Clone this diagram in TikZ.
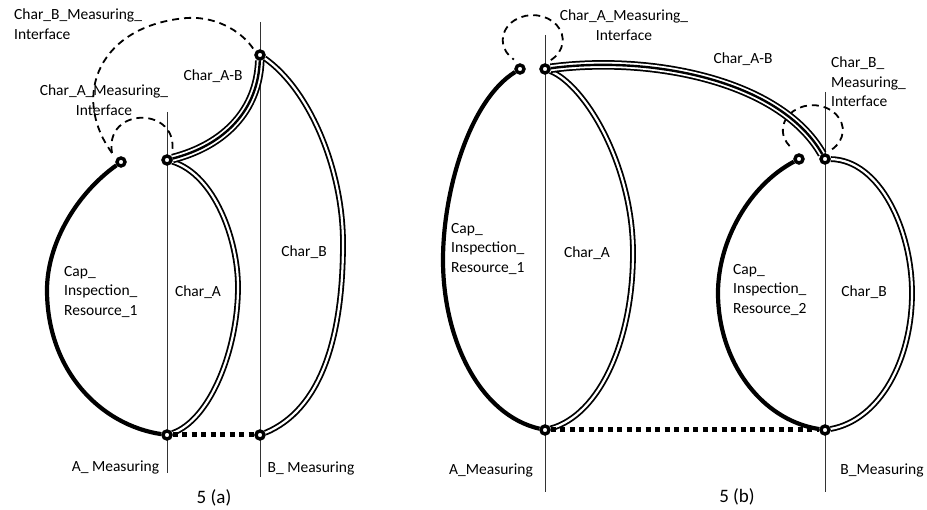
\documentclass[tikz,border=0pt]{standalone}
\usepackage{fontspec}
\setmainfont{Carlito}
\pgfdeclarelayer{back}
\pgfsetlayers{back,main}
\begin{document}
\begin{tikzpicture}[x=1pt,y=1pt,
  junction/.style={circle,draw,line width=3.4pt,fill=white,minimum size=8pt,inner sep=0pt},
  axisline/.style={draw=black!80,line width=0.9pt},
  capline/.style={line width=4.2pt},
  charline/.style={double,double distance=2.2pt,line width=1.8pt},
  abline/.style={line width=9.5pt,postaction={draw=white,line width=6pt},postaction={draw=black,line width=2.4pt}},
  ifaceline/.style={dash pattern=on 7pt off 5pt,line width=1.8pt},
  linkline/.style={line width=5pt,dash pattern=on 5pt off 4.5pt},
  lbl/.style={font=\fontsize{15.5}{19.5}\selectfont,inner sep=0pt},
  caption/.style={font=\fontsize{19}{22}\selectfont,inner sep=0pt}]
\useasboundingbox (0,0) rectangle (927,510);

% ---------- 5 (a) ----------
\node[junction] (aCap) at (121,348) {};
\node[junction] (aAt)  at (167,350) {};
\node[junction] (aAb)  at (167,75) {};
\node[junction] (aBt)  at (260,455) {};
\node[junction] (aBb)  at (260,75) {};
\coordinate (aLAtop) at (167,398);
\coordinate (aLAbot) at (167,37);
\coordinate (aLBtop) at (260,488);
\coordinate (aLBbot) at (260,33);
\coordinate (aIfA1) at (112,357);
\coordinate (aIfA2) at (172,357);
\coordinate (aIfB2) at (254,460);

% ---------- 5 (b) ----------
\node[junction] (bCap1) at (520,441) {};
\node[junction] (bAt)   at (545,441) {};
\node[junction] (bAb)   at (545,80) {};
\node[junction] (bCap2) at (799,351) {};
\node[junction] (bBt)   at (825,351) {};
\node[junction] (bBb)   at (825,80) {};
\coordinate (bLAtop) at (545,475);
\coordinate (bLAbot) at (545,18);
\coordinate (bLBtop) at (825,418);
\coordinate (bLBbot) at (825,18);
\coordinate (bIfA) at (550.8,449.9);
\coordinate (bIfB) at (832.1,360.7);

\begin{pgfonlayer}{back}
  % measuring axes
  \draw[axisline] (aLAtop) -- (aLAbot);
  \draw[axisline] (aLBtop) -- (aLBbot);
  \draw[axisline] (bLAtop) -- (bLAbot);
  \draw[axisline] (bLBtop) -- (bLBbot);

  % measuring interfaces (dashed)
  \draw[ifaceline] (aIfA1) .. controls (104,404) and (180,404) .. (aIfA2);
  \draw[ifaceline] (aIfA1) .. controls (70,415) and (100,485) .. (187,492)
                   .. controls (220,494) and (245,475) .. (aIfB2);
  \draw[ifaceline] (bIfA) arc[start angle=-53, end angle=231, x radius=30, y radius=25];
  \draw[ifaceline] (bIfB) arc[start angle=-50, end angle=228, x radius=30, y radius=25];

  % 5 (a) connectors
  \draw[capline] (aCap) .. controls (75,315) and (47,265) .. (47,220)
                 .. controls (47,140) and (100,85) .. (aAb);
  \draw[charline] (aAt) .. controls (215,335) and (238,270) .. (238,223)
                  .. controls (238,160) and (210,90) .. (aAb);
  \draw[charline] (aBt) .. controls (310,420) and (343,340) .. (343,267)
                  .. controls (343,170) and (320,100) .. (aBb);
  \draw[abline] (aAt) .. controls (225,365) and (258,400) .. (aBt);
  \draw[linkline] (aAb) -- (aBb);

  % 5 (b) connectors
  \draw[capline] (bCap1) .. controls (470,410) and (443,320) .. (443,250)
                 .. controls (443,170) and (480,95) .. (bAb);
  \draw[charline] (bAt) .. controls (585,425) and (633,345) .. (633,257)
                  .. controls (633,170) and (600,95) .. (bAb);
  \draw[capline] (bCap2) .. controls (750,325) and (718,270) .. (718,217)
                 .. controls (718,150) and (760,90) .. (bBb);
  \draw[charline] (bBt) .. controls (880,350) and (912,280) .. (912,217)
                  .. controls (912,150) and (880,90) .. (bBb);
  \draw[abline] (bAt) .. controls (650,455) and (780,430) .. (bBt);
  \draw[linkline] (bAb) -- (bBb);
\end{pgfonlayer}

% ---------- labels 5 (a) ----------
\node[lbl,anchor=west,align=left] (aIfBlbl) at (14,486) {Char\_B\_Measuring\_\\Interface};
\node[lbl,align=center] (aIfAlbl) at (104,410) {Char\_A\_Measuring\_\\Interface};
\node[lbl] (aABlbl) at (213,434) {Char\_A-B};
\node[lbl,anchor=west,align=left] (aCaplbl) at (64,218) {Cap\_\\Inspection\_\\Resource\_1};
\node[lbl] (aAlbl) at (198,218) {Char\_A};
\node[lbl] (aBlbl) at (304,258) {Char\_B};
\node[lbl] (aAmlbl) at (115.5,42) {A\_ Measuring};
\node[lbl] (aBmlbl) at (311,41) {B\_ Measuring};
\node[caption] (acap) at (214,12) {5 (a)};

% ---------- labels 5 (b) ----------
\node[lbl,align=center] (bIfAlbl) at (624,485) {Char\_A\_Measuring\_\\Interface};
\node[lbl] (bABlbl) at (743,451) {Char\_A-B};
\node[lbl,anchor=west,align=left] (bIfBlbl) at (831,428) {Char\_B\_\\Measuring\_\\Interface};
\node[lbl,anchor=west,align=left] (bCap1lbl) at (451,261) {Cap\_\\Inspection\_\\Resource\_1};
\node[lbl] (bAlbl) at (587,257) {Char\_A};
\node[lbl,anchor=west,align=left] (bCap2lbl) at (733,220) {Cap\_\\Inspection\_\\Resource\_2};
\node[lbl] (bBlbl) at (864,218) {Char\_B};
\node[lbl] (bAmlbl) at (491,39) {A\_Measuring};
\node[lbl] (bBmlbl) at (882,39) {B\_Measuring};
\node[caption] (bcap) at (737,13) {5 (b)};
\end{tikzpicture}
\end{document}
